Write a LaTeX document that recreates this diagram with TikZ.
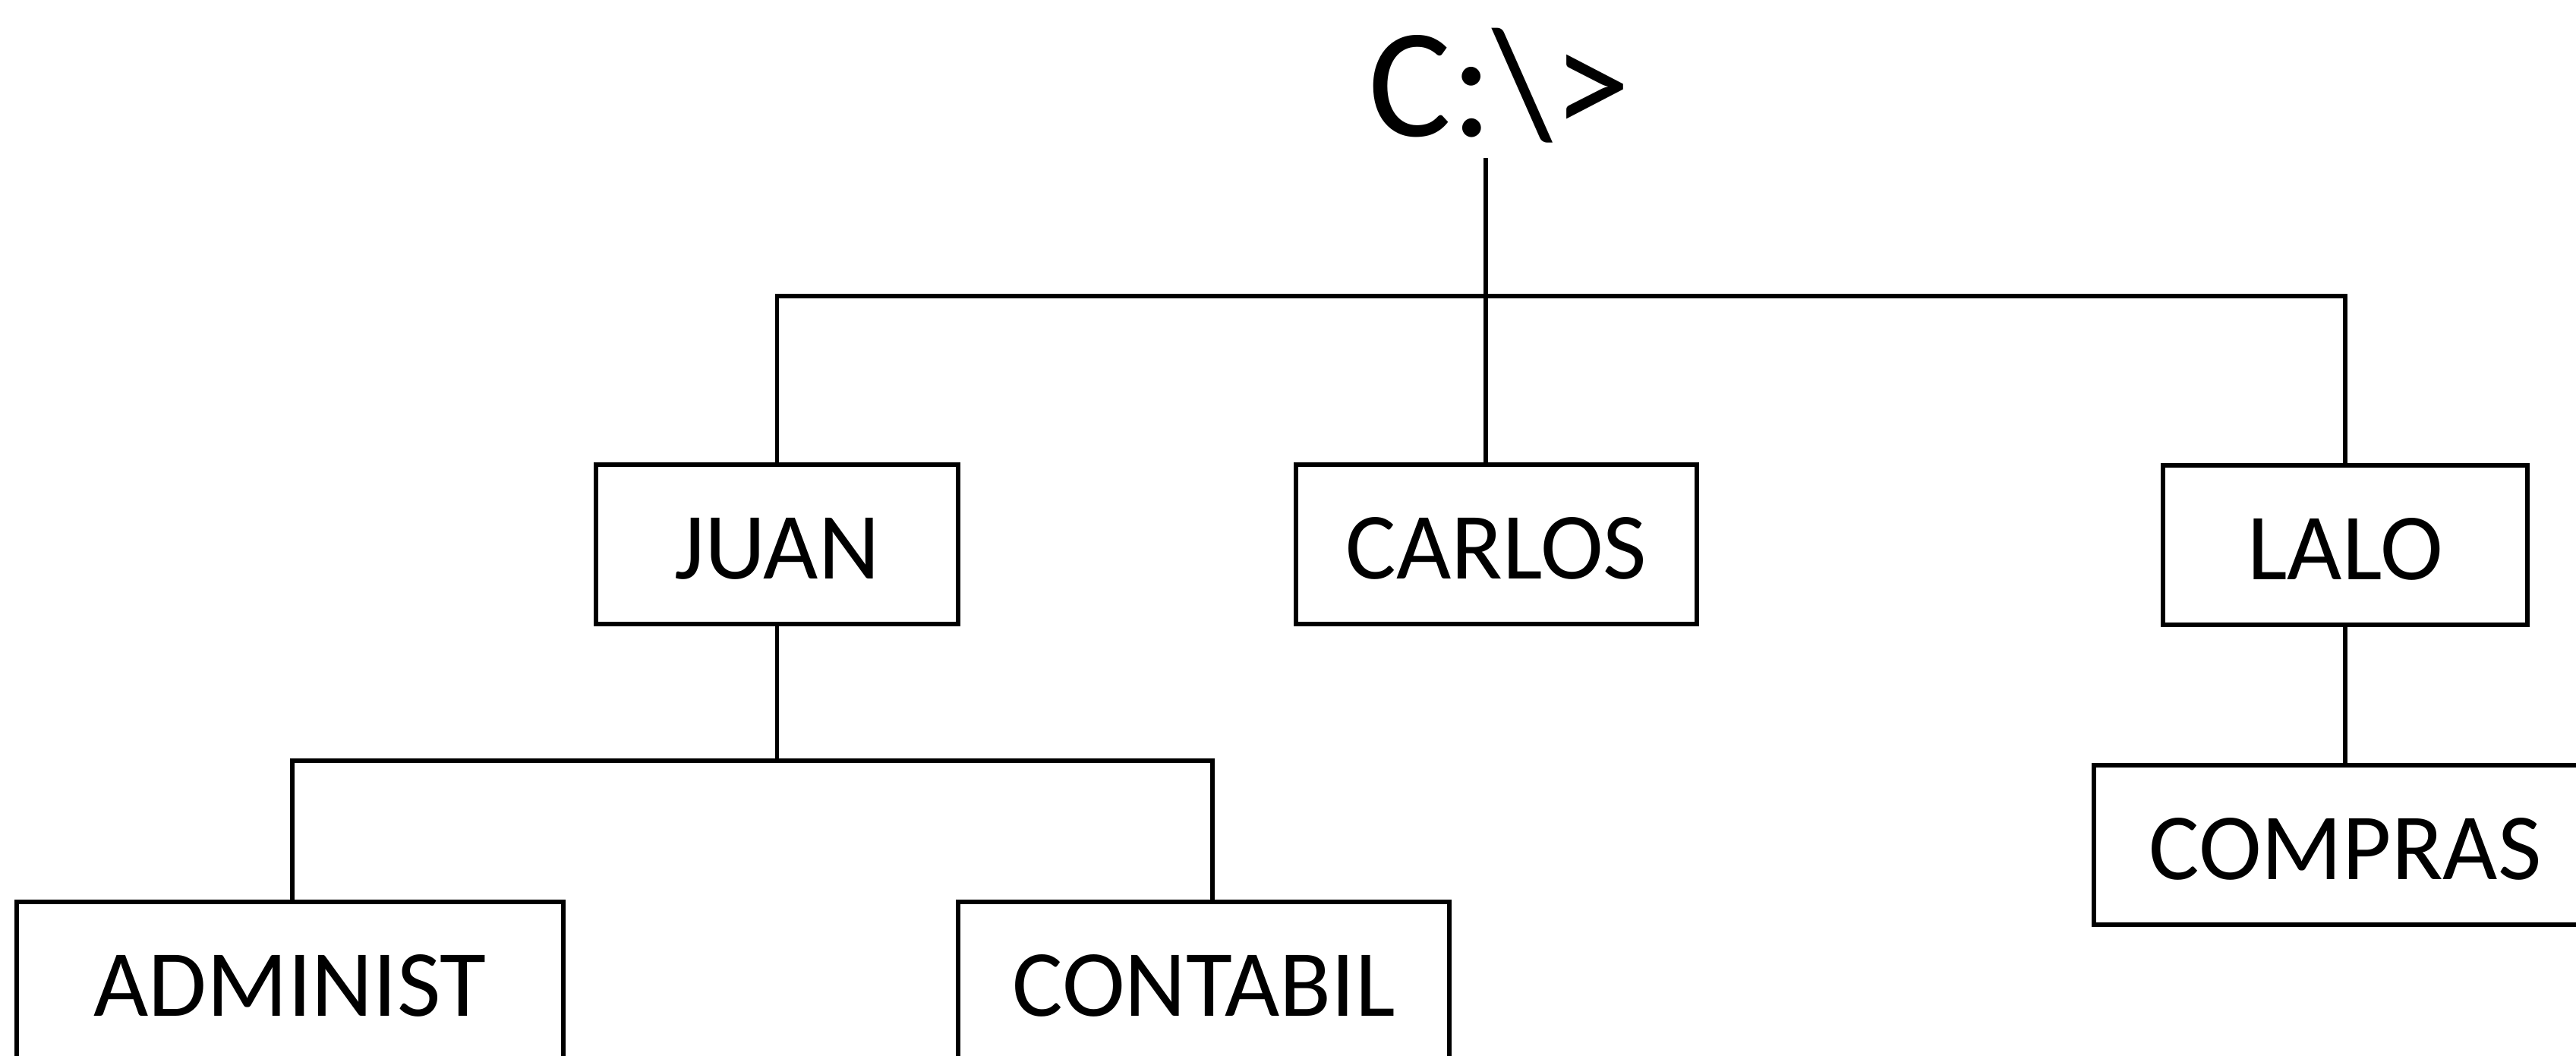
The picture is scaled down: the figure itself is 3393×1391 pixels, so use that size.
\documentclass[tikz,border=0pt]{standalone}
\usepackage{fontspec}
\setmainfont{Carlito}
\begin{document}
\begin{tikzpicture}[x=0.01cm,y=-0.01cm,
  dirbox/.style={draw, line width=1.8pt, minimum height=2.1cm, inner sep=0pt,
    text height=25.7pt, text depth=0pt, font=\fontsize{35.5}{40}\selectfont},
  link/.style={line width=1.6pt}]
\clip (0,0) rectangle (3393,1391);
\fill[white] (0,0) rectangle (3393,1391);

% directory boxes
\node[dirbox, minimum width=4.77cm] (juan)    at (1023.5,717) {JUAN};
\node[dirbox, minimum width=5.28cm] (carlos)  at (1971,717)   {CARLOS};
\node[dirbox, minimum width=4.80cm] (lalo)    at (3089,718)   {LALO};
\node[dirbox, minimum width=6.62cm] (compras) at (3089,1113)  {COMPRAS};
\node[dirbox, minimum width=7.20cm] (admin)   at (382,1293)   {ADMINIST};
\node[dirbox, minimum width=6.47cm] (contab)  at (1585.5,1293) {CONTABIL};

% root prompt
\node[font=\fontsize{58.3}{66}\selectfont, anchor=base, inner sep=0pt] (root) at (1975,180) {C:\textbackslash>};

% tree connectors
\coordinate (rootfoot) at (1957,208);
\coordinate (bus1) at (0,390);
\coordinate (bus2) at (0,1002);
\coordinate (adminjoin) at (385,0);
\coordinate (contabjoin) at (1597,0);
\draw[link] (rootfoot) -- (rootfoot |- carlos.north);
\draw[link] (juan.north) -- (juan.north |- bus1) -- (lalo.north |- bus1) -- (lalo.north);
\draw[link] (juan.south) -- (juan.south |- bus2);
\draw[link] (adminjoin |- admin.north) -- (adminjoin |- bus2)
  -- (contabjoin |- bus2) -- (contabjoin |- contab.north);
\draw[link] (lalo.south) -- (compras.north);
\end{tikzpicture}
\end{document}
